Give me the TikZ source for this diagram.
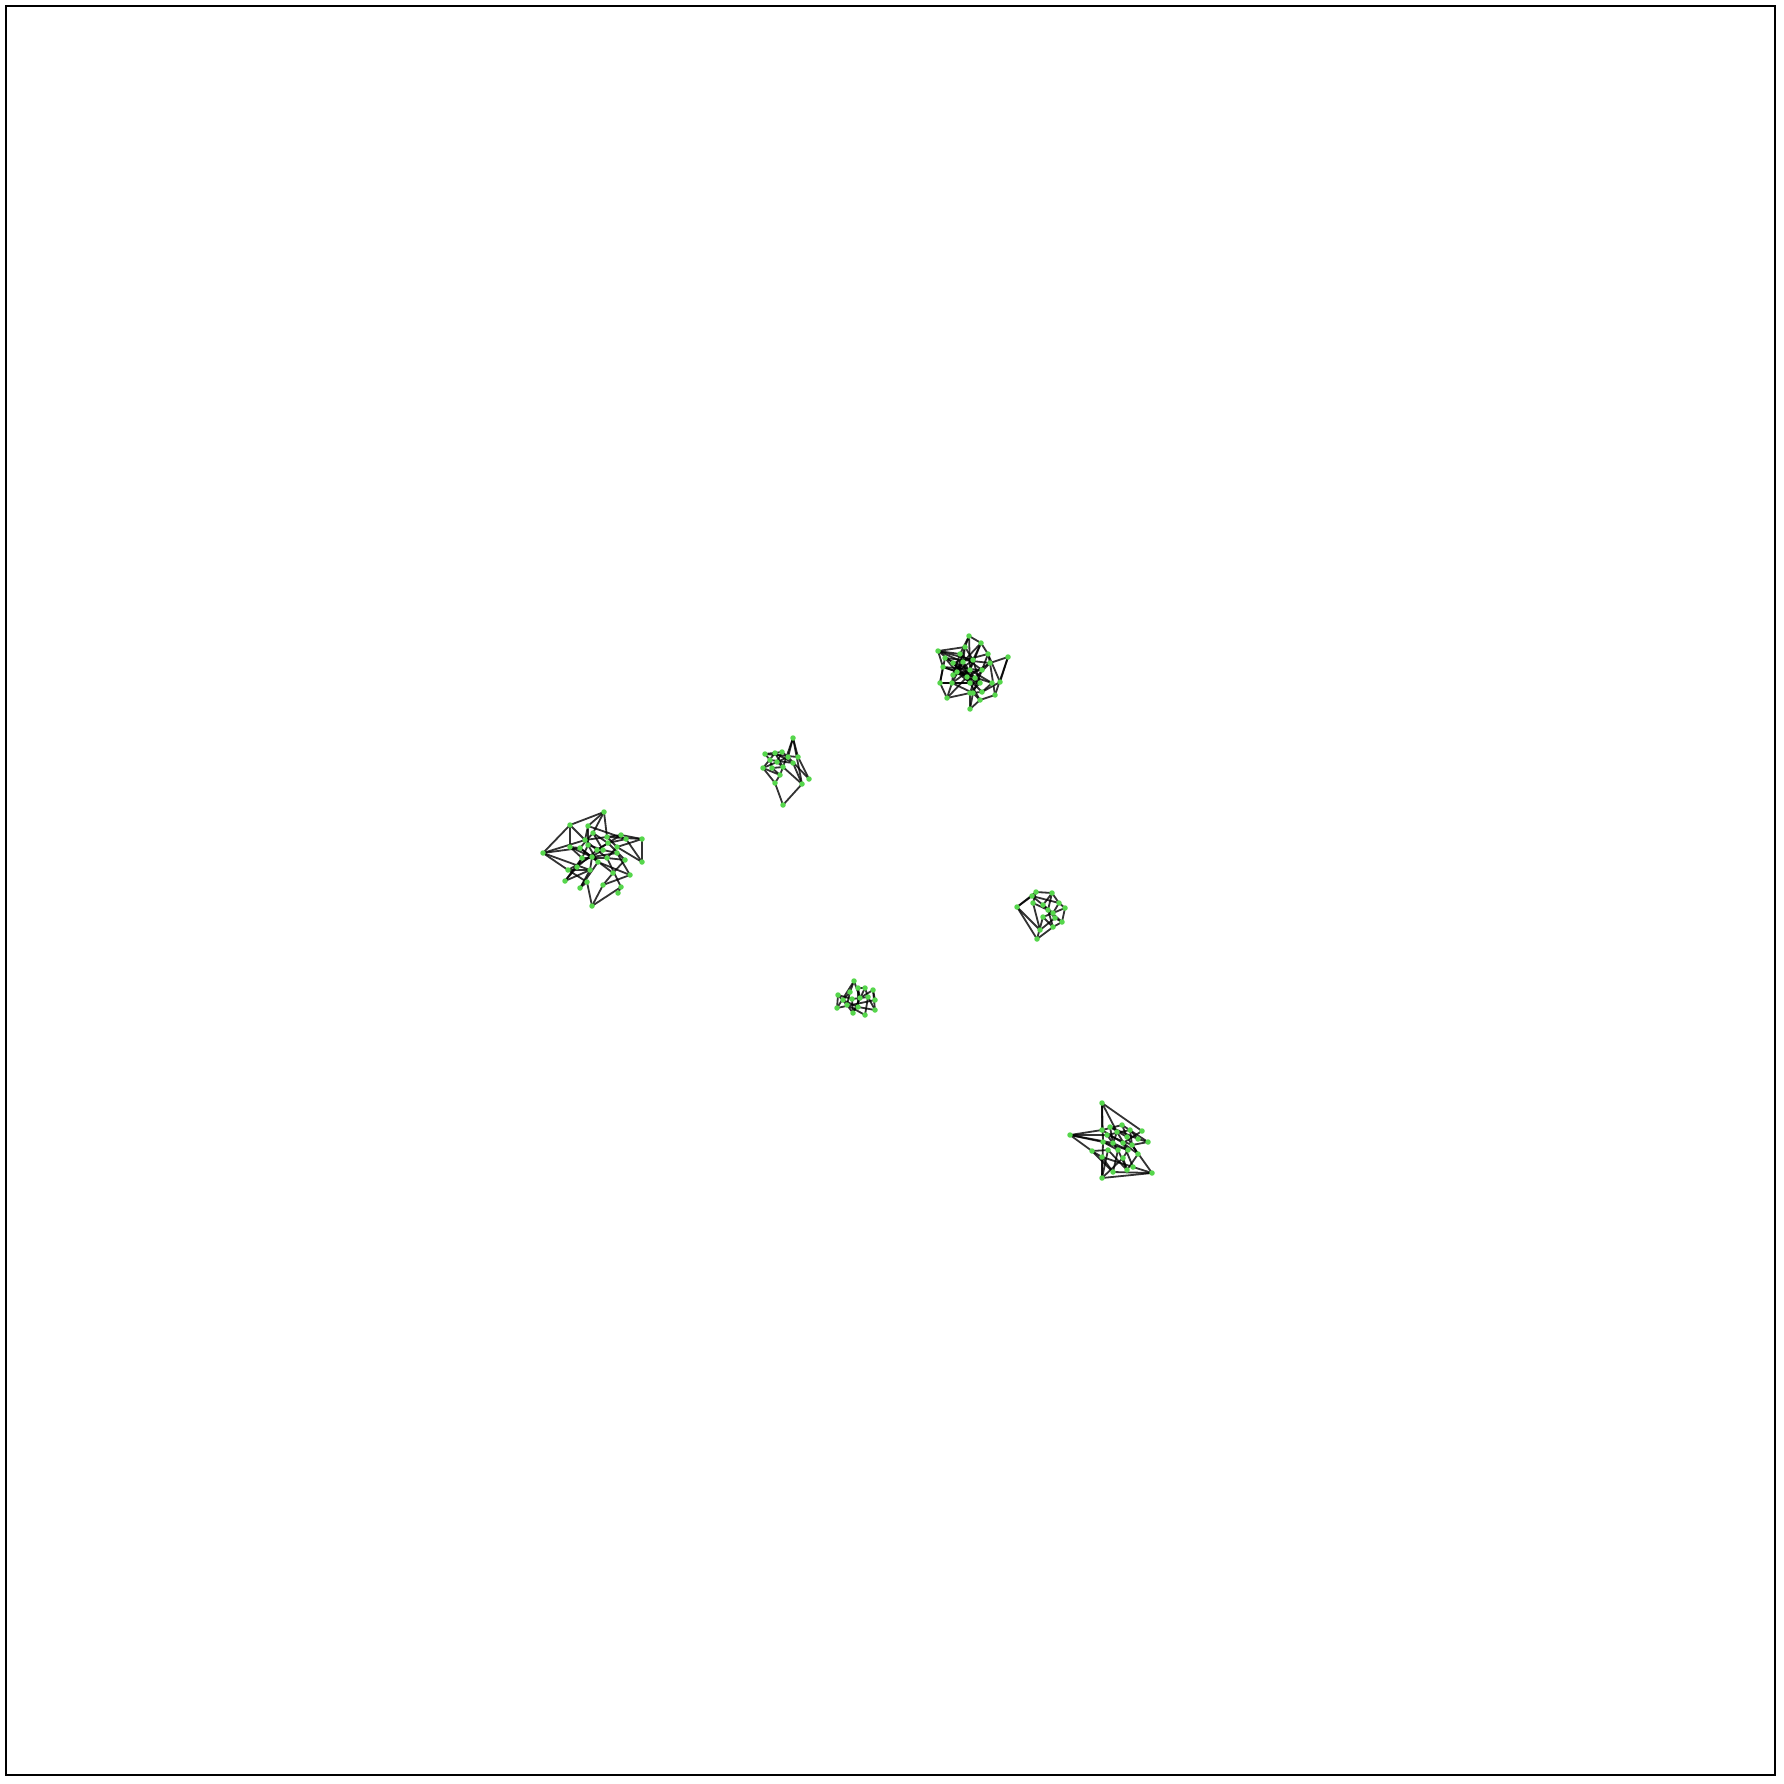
\documentclass[tikz,border=0pt]{standalone}
\pgfdeclarelayer{bg}
\pgfsetlayers{bg,main}
\definecolor{nodegreen}{RGB}{86,214,76}
\tikzset{
  dot/.style={circle,fill=nodegreen,draw=none,inner sep=0pt,minimum size=5.5pt},
  edge/.style={draw=black,draw opacity=0.8,line width=1.8pt},
  frame/.style={draw=black,line width=2pt}
}
\begin{document}
\begin{tikzpicture}[x=1pt,y=-1pt]
\useasboundingbox (0,0) rectangle (1784,1784);
\draw[frame] (6,6) rectangle (1775,1775);
% cluster A
\foreach \n/\x/\y in {A1/969/636,A2/981/643,A3/938/651,A4/965/647,A5/1008/657,A6/988/654,A7/960/654,A8/945/658,A9/953/663,A10/963/662,A11/973/660,A12/990/663,A13/943/667,A14/957/672,A15/970/670,A16/982/670,A17/967/677,A18/975/678,A19/953/675,A20/940/683,A21/952/683,A22/970/683,A23/992/683,A24/1000/682,A25/980/683,A26/973/693,A27/982/692,A28/947/698,A29/995/695,A30/970/693,A31/980/700,A32/970/709}
  \node[dot] (\n) at (\x,\y) {};
% cluster B
\foreach \n/\x/\y in {B1/793/738,B2/765/754,B3/775/753,B4/782/752,B5/798/757,B6/788/757,B7/770/760,B8/777/762,B9/763/768,B10/772/768,B11/783/767,B12/780/775,B13/793/763,B14/809/779,B15/775/783,B16/802/784,B17/783/805}
  \node[dot] (\n) at (\x,\y) {};
% cluster C
\foreach \n/\x/\y in {C1/604/812,C2/570/825,C3/588/826,C4/543/853,C5/570/847,C6/585/840,C7/593/833,C8/607/837,C9/621/835,C10/626/839,C11/642/839,C12/580/848,C13/588/845,C14/597/850,C15/603/850,C16/617/847,C17/608/843,C18/582/858,C19/592/857,C20/598/862,C21/607/858,C22/617/853,C23/625/860,C24/642/862,C25/568/870,C26/577/867,C27/590/870,C28/613/873,C29/630/875,C30/565/881,C31/587/882,C32/603/885,C33/580/888,C34/621/887,C35/618/893,C36/592/906}
  \node[dot] (\n) at (\x,\y) {};
% cluster D
\foreach \n/\x/\y in {D1/1036/892,D2/1052/893,D3/1032/896,D4/1017/907,D5/1033/903,D6/1043/905,D7/1059/903,D8/1048/910,D9/1065/908,D10/1053/913,D11/1043/917,D12/1055/918,D13/1062/922,D14/1040/930,D15/1053/927,D16/1037/939}
  \node[dot] (\n) at (\x,\y) {};
% cluster E
\foreach \n/\x/\y in {E1/854/981,E2/865/988,E3/873/990,E4/858/988,E5/850/992,E6/838/995,E7/843/1000,E8/852/999,E9/860/998,E10/868/997,E11/875/1000,E12/847/1005,E13/837/1008,E14/858/1007,E15/875/1010,E16/853/1013,E17/865/1015}
  \node[dot] (\n) at (\x,\y) {};
% cluster F
\foreach \n/\x/\y in {F1/1102/1103,F2/1070/1135,F3/1102/1130,F4/1110/1127,F5/1122/1125,F6/1130/1130,F7/1142/1131,F8/1107/1135,F9/1117/1132,F10/1127/1137,F11/1138/1139,F12/1148/1142,F13/1103/1142,F14/1113/1143,F15/1123/1143,F16/1132/1145,F17/1108/1150,F18/1118/1150,F19/1128/1150,F20/1092/1151,F21/1138/1154,F22/1102/1157,F23/1123/1158,F24/1133/1167,F25/1113/1172,F26/1127/1170,F27/1152/1173,F28/1102/1178}
  \node[dot] (\n) at (\x,\y) {};
\begin{pgfonlayer}{bg}
\foreach \a/\b in {A1/A4,A1/A7,A1/A15,A2/A6,A2/A11,A2/A10,A3/A7,A3/A9,A3/A13,A3/A11,A4/A10,A4/A14,A5/A29,A5/A24,A5/A12,A6/A24,A6/A16,A6/A9,A7/A19,A7/A16,A8/A12,A8/A14,A8/A20,A9/A17,A9/A22,A10/A18,A10/A21,A11/A25,A11/A14,A12/A29,A12/A18,A13/A20,A13/A16,A14/A22,A15/A23,A15/A19,A16/A26,A17/A25,A17/A27,A18/A30,A19/A21,A20/A28,A20/A22,A20/A25,A21/A26,A22/A31,A23/A27,A24/A27,A25/A30,A26/A32,A28/A30,A28/A17,A30/A32,A31/A32,A29/A31,A27/A30,A13/A23,A3/A4,A1/A2,A6/A12,A7/A22,A8/A15,A9/A18,A10/A19,A11/A17,A14/A25,A15/A21,A16/A19,A3/A10,A4/A11,A2/A15,A12/A17,A13/A18,A21/A28,A26/A31}
  \draw[edge] (\a.center) -- (\b.center);
\foreach \a/\b in {B1/B5,B1/B11,B1/B6,B1/B16,B5/B14,B6/B14,B17/B15,B17/B16,B15/B9,B15/B12,B16/B11,B16/B13,B2/B5,B3/B13,B4/B8,B7/B10,B9/B12,B10/B11,B8/B11,B2/B7,B3/B9,B4/B6,B12/B11,B2/B4,B7/B13,B10/B12,B3/B11,B8/B6,B9/B8}
  \draw[edge] (\a.center) -- (\b.center);
\foreach \a/\b in {C1/C2,C1/C3,C1/C7,C1/C8,C2/C4,C2/C5,C2/C6,C3/C6,C3/C13,C4/C6,C4/C25,C4/C27,C4/C12,C5/C12,C5/C18,C6/C14,C7/C17,C7/C12,C8/C16,C8/C11,C9/C11,C9/C14,C10/C24,C10/C17,C11/C24,C11/C16,C12/C19,C13/C20,C13/C18,C14/C21,C15/C22,C15/C25,C16/C24,C17/C23,C18/C26,C19/C28,C19/C27,C20/C29,C21/C23,C22/C29,C23/C28,C25/C31,C26/C30,C27/C30,C27/C33,C28/C32,C29/C32,C30/C18,C31/C36,C31/C33,C33/C20,C34/C36,C34/C35,C36/C32,C6/C9,C3/C10,C21/C34,C5/C19,C12/C20,C13/C15,C14/C17,C18/C21,C19/C22,C25/C27,C26/C14,C7/C15,C16/C21}
  \draw[edge] (\a.center) -- (\b.center);
\foreach \a/\b in {D4/D3,D4/D1,D4/D14,D4/D16,D1/D2,D2/D7,D2/D8,D7/D9,D9/D13,D13/D15,D15/D16,D14/D12,D6/D10,D5/D8,D2/D6,D11/D15,D12/D13,D10/D9,D3/D6,D5/D14,D8/D12,D7/D10,D11/D16,D1/D5,D3/D7,D6/D13,D8/D15,D10/D11}
  \draw[edge] (\a.center) -- (\b.center);
\foreach \a/\b in {E1/E5,E1/E9,E1/E13,E2/E10,E2/E16,E3/E15,E3/E11,E6/E13,E6/E8,E7/E14,E12/E16,E16/E9,E17/E10,E17/E12,E4/E14,E13/E11,E8/E10,E5/E12,E15/E14,E4/E9,E2/E4,E7/E5,E3/E9,E6/E12,E8/E16,E10/E15}
  \draw[edge] (\a.center) -- (\b.center);
\foreach \a/\b in {F1/F3,F1/F13,F1/F7,F1/F9,F2/F8,F2/F13,F2/F14,F2/F20,F2/F3,F20/F22,F27/F28,F27/F25,F27/F16,F28/F17,F28/F13,F28/F23,F24/F22,F25/F18,F3/F5,F4/F10,F5/F12,F6/F11,F7/F15,F8/F16,F9/F19,F10/F21,F11/F12,F13/F18,F14/F19,F15/F24,F16/F21,F17/F26,F18/F26,F19/F23,F20/F25,F22/F28,F23/F26,F24/F27,F4/F14,F6/F8,F12/F16,F21/F26,F22/F25,F20/F17,F3/F15,F5/F10,F9/F14,F4/F11,F13/F19,F8/F18,F6/F16,F15/F21}
  \draw[edge] (\a.center) -- (\b.center);
\end{pgfonlayer}
\end{tikzpicture}
\end{document}
